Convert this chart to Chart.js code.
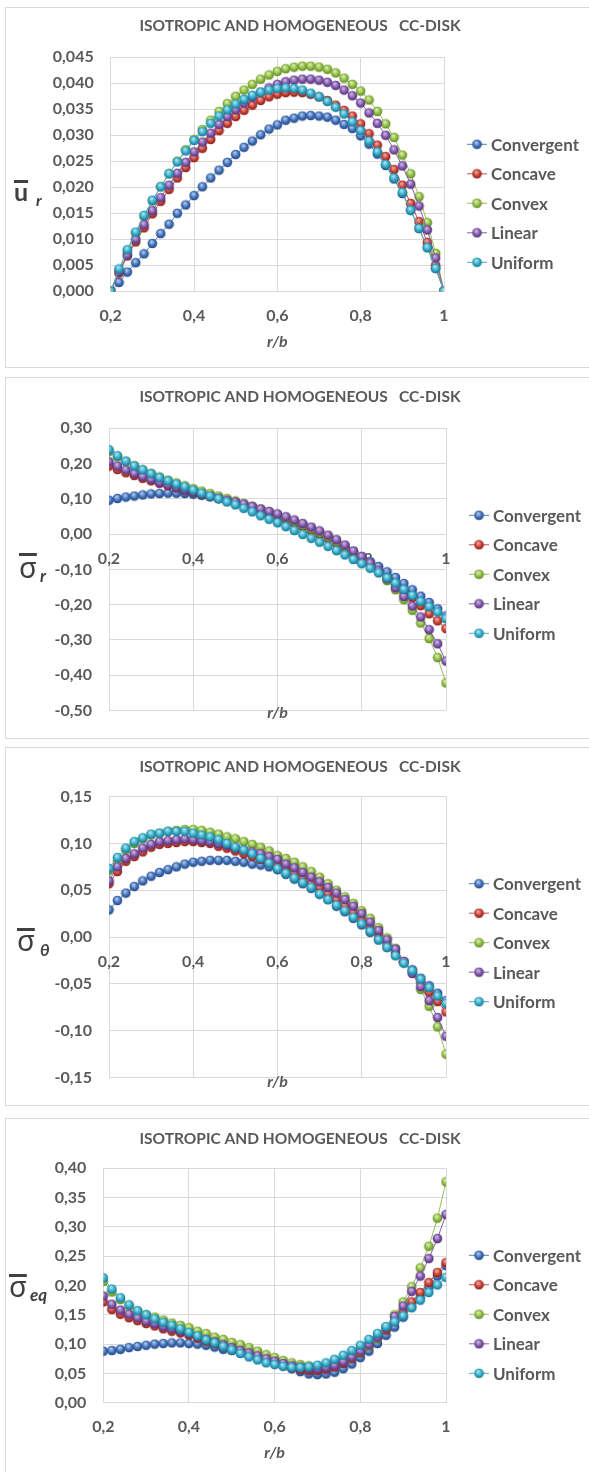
<!DOCTYPE html>
<html>
<head>
<meta charset="utf-8">
<script src="https://cdn.jsdelivr.net/npm/chart.js@4.4.1/dist/chart.umd.min.js"></script>
<style>
  html, body { margin: 0; padding: 0; background: #fff; overflow: hidden; }
  body { width: 589px; height: 1472px; position: relative; }
  .panel { position: absolute; left: 5px; width: 640px; border: 1px solid #d9d9d9; box-sizing: border-box; }
  canvas { position: absolute; left: 0; }
</style>
</head>
<body>
<div class="panel" style="top:7px;height:361px"></div>
<div class="panel" style="top:377px;height:362px"></div>
<div class="panel" style="top:747px;height:359px"></div>
<div class="panel" style="top:1118px;height:400px"></div>
<canvas id="c1" width="589" height="358" style="top:8px"></canvas>
<canvas id="c2" width="589" height="359" style="top:378px"></canvas>
<canvas id="c3" width="589" height="356" style="top:748px"></canvas>
<canvas id="c4" width="589" height="353" style="top:1119px"></canvas>
<script>
// r/b positions
const rb = [0.20, 0.22, 0.24, 0.26, 0.28, 0.30, 0.32, 0.34, 0.36, 0.38, 0.40,
  0.42, 0.44, 0.46, 0.48, 0.50, 0.52, 0.54, 0.56, 0.58, 0.60,
  0.62, 0.64, 0.66, 0.68, 0.70, 0.72, 0.74, 0.76, 0.78, 0.80,
  0.82, 0.84, 0.86, 0.88, 0.90, 0.92, 0.94, 0.96, 0.98, 1.00];

const names = ["Convergent", "Concave", "Convex", "Linear", "Uniform"];

// radial displacement u_r
const urConvergent = [0, 0.0017, 0.0037, 0.0055, 0.0072, 0.0092, 0.0111, 0.0129, 0.0150, 0.0166, 0.0184,
  0.0201, 0.0218, 0.0233, 0.0248, 0.0263, 0.0277, 0.0289, 0.0301, 0.0312, 0.0320,
  0.0329, 0.0333, 0.0337, 0.0338, 0.0337, 0.0335, 0.0329, 0.0321, 0.0313, 0.0299,
  0.0283, 0.0264, 0.0242, 0.0216, 0.0188, 0.0156, 0.0121, 0.0084, 0.0044, 0];
const urConcave = [0, 0.0035, 0.0068, 0.0095, 0.0122, 0.0149, 0.0173, 0.0196, 0.0218, 0.0238, 0.0257,
  0.0275, 0.0292, 0.0309, 0.0323, 0.0336, 0.0348, 0.0358, 0.0367, 0.0374, 0.0379,
  0.0382, 0.0383, 0.0382, 0.0379, 0.0374, 0.0367, 0.0358, 0.0348, 0.0337, 0.0322,
  0.0303, 0.0281, 0.0259, 0.0234, 0.0204, 0.0169, 0.0134, 0.0094, 0.0050, 0];
const urConvex = [0, 0.0040, 0.0077, 0.0112, 0.0144, 0.0174, 0.0201, 0.0226, 0.0250, 0.0272, 0.0292,
  0.0311, 0.0329, 0.0346, 0.0361, 0.0375, 0.0387, 0.0398, 0.0408, 0.0416, 0.0423,
  0.0428, 0.0431, 0.0433, 0.0433, 0.0431, 0.0427, 0.0420, 0.0410, 0.0398, 0.0385,
  0.0368, 0.0346, 0.0322, 0.0296, 0.0262, 0.0226, 0.0182, 0.0132, 0.0073, 0];
const urLinear = [0, 0.0038, 0.0070, 0.0100, 0.0128, 0.0155, 0.0180, 0.0204, 0.0227, 0.0248, 0.0268,
  0.0287, 0.0304, 0.0321, 0.0336, 0.0349, 0.0362, 0.0373, 0.0383, 0.0391, 0.0398,
  0.0403, 0.0406, 0.0408, 0.0408, 0.0406, 0.0402, 0.0396, 0.0387, 0.0376, 0.0362,
  0.0343, 0.0323, 0.0300, 0.0272, 0.0241, 0.0206, 0.0164, 0.0118, 0.0064, 0];
const urUniform = [0, 0.0043, 0.0080, 0.0114, 0.0146, 0.0175, 0.0201, 0.0226, 0.0249, 0.0270, 0.0290,
  0.0307, 0.0323, 0.0337, 0.0349, 0.0360, 0.0369, 0.0377, 0.0383, 0.0387, 0.0390,
  0.0391, 0.0390, 0.0387, 0.0381, 0.0374, 0.0365, 0.0354, 0.0341, 0.0326, 0.0309,
  0.0289, 0.0268, 0.0244, 0.0218, 0.0190, 0.0156, 0.0121, 0.0084, 0.0044, 0];

// radial stress sigma_r
const srConvergent = [0.096, 0.101, 0.105, 0.108, 0.111, 0.114, 0.115, 0.116, 0.116, 0.115, 0.113,
  0.110, 0.106, 0.101, 0.096, 0.090, 0.084, 0.077, 0.069, 0.061, 0.053,
  0.043, 0.034, 0.024, 0.014, 0.003, -0.009, -0.021, -0.034, -0.049, -0.064,
  -0.078, -0.092, -0.107, -0.123, -0.140, -0.158, -0.176, -0.194, -0.212, -0.232];
const srConcave = [0.193, 0.183, 0.174, 0.166, 0.158, 0.151, 0.144, 0.137, 0.131, 0.125, 0.119,
  0.113, 0.107, 0.101, 0.095, 0.089, 0.082, 0.074, 0.066, 0.058, 0.050,
  0.041, 0.031, 0.021, 0.010, -0.001, -0.013, -0.026, -0.040, -0.055, -0.071,
  -0.088, -0.106, -0.125, -0.143, -0.162, -0.180, -0.203, -0.226, -0.246, -0.268];
const srConvex = [0.234, 0.219, 0.206, 0.194, 0.182, 0.172, 0.162, 0.153, 0.145, 0.137, 0.129,
  0.122, 0.115, 0.108, 0.101, 0.094, 0.087, 0.079, 0.071, 0.063, 0.055,
  0.046, 0.036, 0.026, 0.015, 0.004, -0.008, -0.021, -0.035, -0.051, -0.068,
  -0.087, -0.108, -0.132, -0.158, -0.186, -0.216, -0.252, -0.296, -0.350, -0.422];
const srLinear = [0.205, 0.193, 0.182, 0.172, 0.163, 0.155, 0.147, 0.140, 0.133, 0.126, 0.120,
  0.114, 0.108, 0.102, 0.096, 0.091, 0.085, 0.078, 0.071, 0.064, 0.057,
  0.049, 0.040, 0.030, 0.020, 0.009, -0.003, -0.016, -0.031, -0.048, -0.064,
  -0.082, -0.103, -0.127, -0.152, -0.177, -0.204, -0.235, -0.271, -0.311, -0.360];
const srUniform = [0.239, 0.222, 0.207, 0.193, 0.182, 0.171, 0.160, 0.151, 0.142, 0.134, 0.125,
  0.116, 0.108, 0.100, 0.091, 0.083, 0.073, 0.063, 0.052, 0.042, 0.032,
  0.021, 0.010, -0.001, -0.012, -0.023, -0.035, -0.047, -0.059, -0.072, -0.084,
  -0.097, -0.110, -0.124, -0.139, -0.157, -0.174, -0.191, -0.206, -0.221, -0.240];

// hoop stress sigma_theta
const stConvergent = [0.029, 0.039, 0.047, 0.054, 0.060, 0.065, 0.069, 0.072, 0.075, 0.078, 0.080,
  0.081, 0.082, 0.082, 0.082, 0.081, 0.080, 0.078, 0.077, 0.075, 0.072,
  0.067, 0.062, 0.057, 0.052, 0.046, 0.040, 0.033, 0.027, 0.020, 0.013,
  0.005, -0.003, -0.011, -0.019, -0.027, -0.035, -0.044, -0.052, -0.060, -0.068];
const stConcave = [0.057, 0.070, 0.081, 0.086, 0.091, 0.096, 0.099, 0.100, 0.101, 0.102, 0.102,
  0.101, 0.100, 0.097, 0.095, 0.092, 0.089, 0.086, 0.083, 0.080, 0.077,
  0.073, 0.068, 0.063, 0.057, 0.053, 0.046, 0.040, 0.033, 0.026, 0.018,
  0.010, 0.003, -0.007, -0.016, -0.027, -0.037, -0.048, -0.059, -0.069, -0.080];
const stConvex = [0.071, 0.081, 0.093, 0.100, 0.105, 0.109, 0.111, 0.113, 0.114, 0.115, 0.115,
  0.114, 0.112, 0.110, 0.107, 0.105, 0.102, 0.099, 0.096, 0.092, 0.087,
  0.084, 0.080, 0.075, 0.070, 0.064, 0.057, 0.050, 0.043, 0.036, 0.028,
  0.020, 0.010, -0.001, -0.012, -0.026, -0.038, -0.056, -0.074, -0.096, -0.125];
const stLinear = [0.060, 0.075, 0.084, 0.089, 0.095, 0.099, 0.102, 0.103, 0.104, 0.105, 0.104,
  0.103, 0.102, 0.100, 0.098, 0.095, 0.093, 0.091, 0.089, 0.086, 0.083,
  0.078, 0.074, 0.069, 0.064, 0.059, 0.053, 0.047, 0.040, 0.033, 0.025,
  0.016, 0.007, -0.003, -0.013, -0.026, -0.039, -0.053, -0.068, -0.086, -0.106];
const stUniform = [0.0735, 0.085, 0.095, 0.102, 0.106, 0.110, 0.111, 0.113, 0.113, 0.113, 0.111,
  0.109, 0.107, 0.104, 0.100, 0.096, 0.093, 0.089, 0.084, 0.079, 0.073,
  0.068, 0.063, 0.058, 0.053, 0.046, 0.040, 0.034, 0.028, 0.021, 0.014,
  0.006, -0.003, -0.011, -0.020, -0.028, -0.036, -0.045, -0.054, -0.063, -0.071];

// equivalent stress sigma_eq
const seqConvergent = [0.088, 0.089, 0.091, 0.094, 0.096, 0.098, 0.100, 0.101, 0.102, 0.102, 0.101,
  0.100, 0.098, 0.095, 0.091, 0.089, 0.085, 0.081, 0.077, 0.072, 0.068,
  0.063, 0.058, 0.053, 0.049, 0.048, 0.049, 0.052, 0.058, 0.066, 0.077,
  0.088, 0.101, 0.115, 0.129, 0.146, 0.164, 0.180, 0.197, 0.216, 0.234];
const seqConcave = [0.172, 0.159, 0.151, 0.145, 0.140, 0.135, 0.131, 0.126, 0.122, 0.119, 0.115,
  0.110, 0.105, 0.101, 0.096, 0.092, 0.087, 0.082, 0.077, 0.072, 0.068,
  0.064, 0.060, 0.057, 0.055, 0.055, 0.057, 0.061, 0.067, 0.075, 0.085,
  0.097, 0.110, 0.124, 0.139, 0.156, 0.172, 0.188, 0.205, 0.222, 0.239];
const seqConvex = [0.207, 0.189, 0.176, 0.165, 0.156, 0.150, 0.146, 0.141, 0.136, 0.132, 0.128,
  0.122, 0.118, 0.112, 0.108, 0.103, 0.099, 0.094, 0.088, 0.082, 0.077,
  0.072, 0.068, 0.065, 0.063, 0.062, 0.063, 0.066, 0.071, 0.078, 0.087,
  0.097, 0.110, 0.128, 0.150, 0.172, 0.198, 0.230, 0.267, 0.315, 0.377];
const seqLinear = [0.182, 0.168, 0.158, 0.151, 0.145, 0.139, 0.135, 0.130, 0.126, 0.122, 0.118,
  0.113, 0.108, 0.104, 0.099, 0.094, 0.089, 0.085, 0.080, 0.075, 0.071,
  0.067, 0.063, 0.061, 0.059, 0.058, 0.060, 0.064, 0.070, 0.078, 0.088,
  0.099, 0.112, 0.128, 0.147, 0.165, 0.190, 0.216, 0.246, 0.280, 0.321];
const seqUniform = [0.213, 0.194, 0.179, 0.167, 0.157, 0.150, 0.143, 0.137, 0.132, 0.126, 0.120,
  0.114, 0.107, 0.102, 0.096, 0.090, 0.084, 0.078, 0.073, 0.068, 0.065,
  0.062, 0.060, 0.060, 0.061, 0.064, 0.068, 0.074, 0.081, 0.089, 0.098,
  0.108, 0.118, 0.130, 0.138, 0.148, 0.162, 0.175, 0.188, 0.201, 0.214];

// ticks
const xTickVals = [0.2, 0.4, 0.6, 0.8, 1];
const xTickLabels = ["0,2", "0,4", "0,6", "0,8", "1"];
const y1Vals = [0, 0.005, 0.01, 0.015, 0.02, 0.025, 0.03, 0.035, 0.04, 0.045];
const y1Labels = ["0,000", "0,005", "0,010", "0,015", "0,020", "0,025", "0,030", "0,035", "0,040", "0,045"];
const y2Vals = [-0.5, -0.4, -0.3, -0.2, -0.1, 0, 0.1, 0.2, 0.3];
const y2Labels = ["-0,50", "-0,40", "-0,30", "-0,20", "-0,10", "0,00", "0,10", "0,20", "0,30"];
const y3Vals = [-0.15, -0.1, -0.05, 0, 0.05, 0.1, 0.15];
const y3Labels = ["-0,15", "-0,10", "-0,05", "0,00", "0,05", "0,10", "0,15"];
const y4Vals = [0, 0.05, 0.1, 0.15, 0.2, 0.25, 0.3, 0.35, 0.4];
const y4Labels = ["0,00", "0,05", "0,10", "0,15", "0,20", "0,25", "0,30", "0,35", "0,40"];

const title = "ISOTROPIC AND HOMOGENEOUS   CC-DISK";
const lineColors = ["#4f81bd", "#c0504d", "#9bbb59", "#8064a2", "#4bacc6"];
const ballColors = [
  ["#b3caee", "#3b6cb7", "#1c3a6c"],
  ["#f3aaa2", "#c23a30", "#761a14"],
  ["#dbefb4", "#8cba3d", "#4f701c"],
  ["#cfb9e6", "#7b52a6", "#452866"],
  ["#aee6f3", "#2ea8c6", "#13627a"]
];
const gray = "#595959";

Chart.defaults.font.family = "Lato";

function makeBall(c) {
  const cv = document.createElement("canvas");
  cv.width = 11; cv.height = 11;
  const g = cv.getContext("2d");
  const grad = g.createRadialGradient(4.6, 3.6, 0.4, 5.5, 5.5, 5.6);
  grad.addColorStop(0, c[0]);
  grad.addColorStop(0.55, c[1]);
  grad.addColorStop(1, c[2]);
  g.fillStyle = grad;
  g.beginPath();
  g.arc(5.5, 5.5, 4.8, 0, Math.PI * 2);
  g.fill();
  return cv;
}
const balls = ballColors.map(makeBall);

// title, x title, legend and y title drawn on the canvas
const panelText = {
  id: "panelText",
  afterDraw(chart, args, o) {
    const ctx = chart.ctx;
    const a = chart.chartArea;
    ctx.save();
    ctx.fillStyle = gray;
    ctx.textAlign = "center";
    ctx.textBaseline = "middle";
    ctx.font = "bold 15.5px Lato";
    ctx.fillText(title, 300, o.titleY);
    ctx.font = "italic bold 16px Lato";
    ctx.fillText("r/b", (a.left + a.right) / 2, o.xTitleY);

    chart.data.datasets.forEach((ds, i) => {
      const y = a.top + 87 + i * 29.5;
      const x = a.right + 33;
      ctx.strokeStyle = ds.borderColor;
      ctx.lineWidth = 1;
      ctx.beginPath();
      ctx.moveTo(x - 10, y);
      ctx.lineTo(x + 10, y);
      ctx.stroke();
      ctx.drawImage(balls[i], x - 5.5, y - 5.5);
      ctx.textAlign = "left";
      ctx.font = "bold 17px Lato";
      ctx.fillStyle = gray;
      ctx.fillText(ds.label, x + 14, y + 1);
    });

    const t = o.yTitle;
    ctx.textAlign = "left";
    ctx.textBaseline = "alphabetic";
    ctx.fillStyle = "#404040";
    ctx.font = t.font;
    ctx.fillText(t.main, t.x, t.y);
    const w = ctx.measureText(t.main).width;
    ctx.fillRect(t.x, t.barY, w, 3);
    ctx.font = t.subFont;
    ctx.fillText(t.sub, t.subX, t.subY);
    ctx.restore();
  }
};

function makeChart(id, series, yMin, yMax, yVals, yLabels, cfg) {
  const canvas = document.getElementById(id);
  const H = canvas.height;
  const datasets = names.map((n, i) => ({
    label: n,
    data: series[i].map((v, k) => ({ x: rb[k], y: v })),
    borderColor: lineColors[i],
    backgroundColor: lineColors[i],
    borderWidth: 1,
    pointStyle: balls[i],
    pointRadius: 5,
    pointHoverRadius: 5,
    order: names.length - 1 - i
  }));

  new Chart(canvas, {
    type: "line",
    data: { datasets: datasets },
    options: {
      responsive: false,
      animation: false,
      events: [],
      layout: {
        padding: {
          left: 0,
          top: cfg.top,
          right: 589 - cfg.right,
          bottom: H - cfg.bottom - 40
        }
      },
      scales: {
        x: {
          type: "linear",
          min: 0.2,
          max: 1,
          position: cfg.xPos,
          afterBuildTicks: s => { s.ticks = xTickVals.map(v => ({ value: v })); },
          afterFit: s => { s.height = 40; },
          ticks: {
            callback: (v, i) => xTickLabels[i],
            autoSkip: false,
            maxRotation: 0,
            padding: 15,
            color: gray,
            font: { size: 16, weight: "bold" }
          },
          grid: { color: "#d9d9d9", drawTicks: false },
          border: { display: false }
        },
        y: {
          min: yMin,
          max: yMax,
          afterBuildTicks: s => { s.ticks = yVals.map(v => ({ value: v })); },
          afterFit: s => { s.width = cfg.left; },
          ticks: {
            callback: (v, i) => yLabels[i],
            padding: 17,
            color: gray,
            font: { size: 16, weight: "bold" }
          },
          grid: { color: "#d9d9d9", drawTicks: false },
          border: { display: false }
        }
      },
      plugins: {
        legend: { display: false },
        tooltip: { enabled: false },
        panelText: {
          titleY: cfg.titleY,
          xTitleY: cfg.xTitleY,
          yTitle: cfg.yTitle
        }
      }
    },
    plugins: [panelText]
  });
}

makeChart("c1", [urConvergent, urConcave, urConvex, urLinear, urUniform], 0, 0.045, y1Vals, y1Labels, {
  left: 110.7, right: 444, top: 49.3, bottom: 283.3, xPos: "bottom", titleY: 18, xTitleY: 334,
  yTitle: { main: "u", font: "bold 25px Lato", x: 14, y: 193, barY: 172, sub: "r", subFont: "italic bold 16px Lato", subX: 36, subY: 198 }
});
makeChart("c2", [srConvergent, srConcave, srConvex, srLinear, srUniform], -0.5, 0.3, y2Vals, y2Labels, {
  left: 109, right: 446, top: 50.3, bottom: 320.3, xPos: { y: 0 }, titleY: 19, xTitleY: 335,
  yTitle: { main: "σ", font: "29px 'Noto Sans'", x: 19, y: 200, barY: 175, sub: "r", subFont: "italic bold 17px Lato", subX: 40, subY: 204 }
});
makeChart("c3", [stConvergent, stConcave, stConvex, stLinear, stUniform], -0.15, 0.15, y3Vals, y3Labels, {
  left: 109, right: 446, top: 48.7, bottom: 318.7, xPos: { y: 0 }, titleY: 19, xTitleY: 334,
  yTitle: { main: "σ", font: "29px 'Noto Sans'", x: 17, y: 203, barY: 180, sub: "θ", subFont: "italic bold 17px Lato", subX: 40, subY: 208 }
});
makeChart("c4", [seqConvergent, seqConcave, seqConvex, seqLinear, seqUniform], 0, 0.4, y4Vals, y4Labels, {
  left: 103.3, right: 446, top: 49.3, bottom: 283.7, xPos: "bottom", titleY: 20, xTitleY: 334,
  yTitle: { main: "σ", font: "29px 'Noto Sans'", x: 9, y: 178, barY: 155, sub: "eq", subFont: "italic bold 17px Lato", subX: 30, subY: 182 }
});
</script>
</body>
</html>
